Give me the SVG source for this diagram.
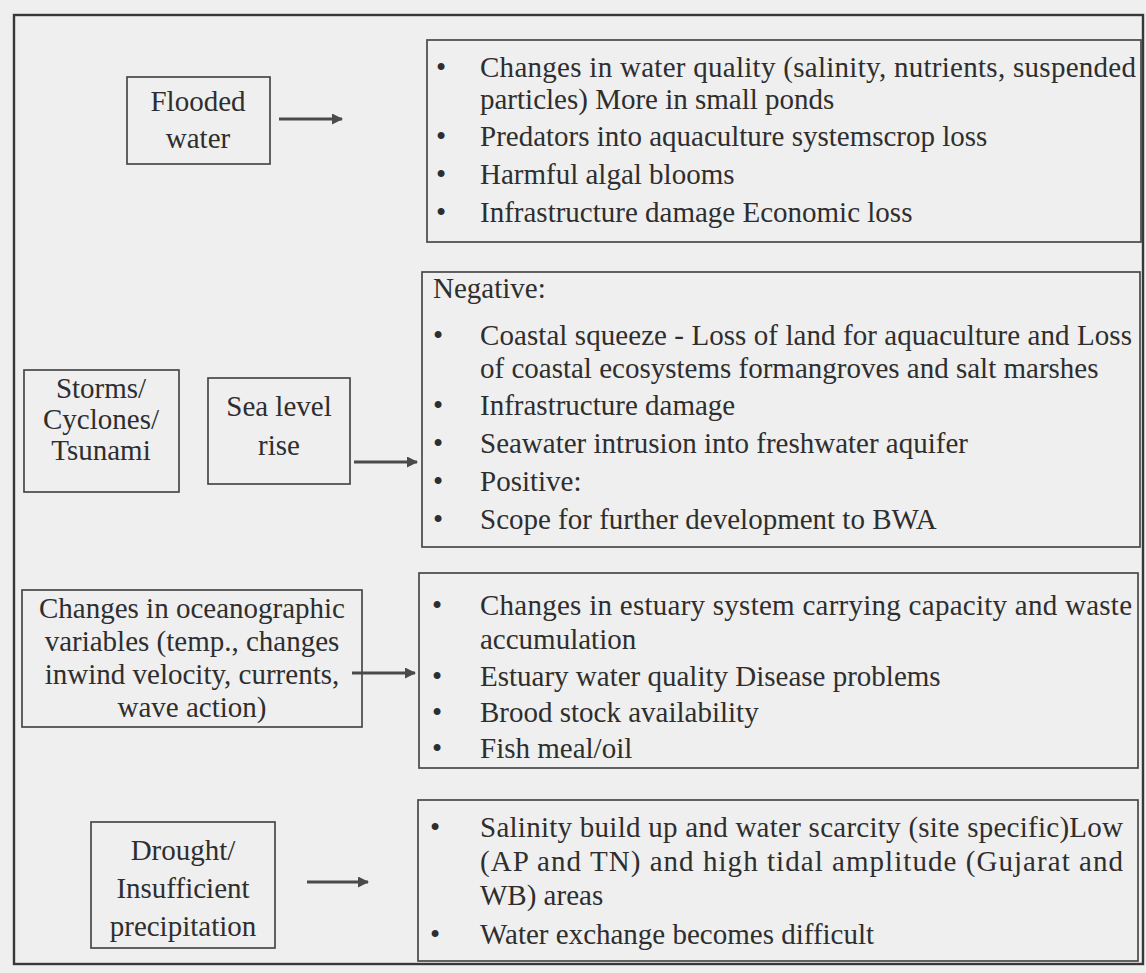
<svg xmlns="http://www.w3.org/2000/svg" width="1146" height="973" viewBox="0 0 1146 973">
<defs>
<style>
.bg{fill:#efefef}
.box{fill:none;stroke:#484848;stroke-width:1.7}
.outer{fill:none;stroke:#383838;stroke-width:2.4}
text{font-family:"Liberation Serif","Times New Roman",serif;font-size:29px;fill:#2e2e2e}
.c{text-anchor:middle}
.b{text-anchor:middle}
.conn{stroke:#4a4a4a;stroke-width:3.2;fill:none}
</style>
<marker id="ah" markerWidth="11" markerHeight="11" refX="10" refY="5.5" orient="auto" markerUnits="userSpaceOnUse">
<path d="M0,0 L11,5.5 L0,11 Z" fill="#4a4a4a"/>
</marker>
</defs>
<rect class="bg" x="0" y="0" width="1146" height="973"/>
<rect class="outer" x="14" y="15" width="1129" height="949"/>

<g id="connectors">
<line class="conn" x1="279" y1="119" x2="342" y2="119" marker-end="url(#ah)"/>
<line class="conn" x1="354" y1="462" x2="417" y2="462" marker-end="url(#ah)"/>
<line class="conn" x1="352" y1="673" x2="415" y2="673" marker-end="url(#ah)"/>
<line class="conn" x1="307" y1="882" x2="368" y2="882" marker-end="url(#ah)"/>
</g>

<g id="flooded">
<rect class="box" x="127" y="77" width="143" height="87"/>
<text class="c" x="198" y="111">Flooded</text>
<text class="c" x="198" y="148">water</text>
</g>

<g id="storms">
<rect class="box" x="24" y="370" width="155" height="122"/>
<text class="c" x="101" y="398">Storms/</text>
<text class="c" x="101" y="429">Cyclones/</text>
<text class="c" x="101" y="460">Tsunami</text>
</g>

<g id="sealevel">
<rect class="box" x="208" y="378" width="142" height="106"/>
<text class="c" x="279" y="416">Sea level</text>
<text class="c" x="279" y="455">rise</text>
</g>

<g id="oceanographic">
<rect class="box" x="22" y="590" width="340" height="137"/>
<text class="c" x="192" y="618">Changes in oceanographic</text>
<text class="c" x="192" y="651">variables (temp., changes</text>
<text class="c" x="192" y="684">inwind velocity, currents,</text>
<text class="c" x="192" y="717">wave action)</text>
</g>

<g id="drought">
<rect class="box" x="91" y="822" width="184" height="126"/>
<text class="c" x="183" y="860">Drought/</text>
<text class="c" x="183" y="898">Insufficient</text>
<text class="c" x="183" y="936">precipitation</text>
</g>

<g id="effects-flood">
<rect class="box" x="427" y="40" width="714" height="202"/>
<text class="b" x="441" y="77">•</text>
<text x="480" y="77" textLength="656" lengthAdjust="spacing">Changes in water quality (salinity, nutrients, suspended</text>
<text x="480" y="109">particles) More in small ponds</text>
<text class="b" x="441" y="146">•</text>
<text x="480" y="146">Predators into aquaculture systemscrop loss</text>
<text class="b" x="441" y="184">•</text>
<text x="480" y="184">Harmful algal blooms</text>
<text class="b" x="441" y="222">•</text>
<text x="480" y="222">Infrastructure damage Economic loss</text>
</g>

<g id="effects-sealevel">
<rect class="box" x="422" y="272" width="718" height="275"/>
<text x="433" y="298">Negative:</text>
<text class="b" x="438" y="345">•</text>
<text x="480" y="345" textLength="652" lengthAdjust="spacing">Coastal squeeze - Loss of land for aquaculture and  Loss</text>
<text x="480" y="378">of coastal ecosystems formangroves and salt marshes</text>
<text class="b" x="438" y="415">•</text>
<text x="480" y="415">Infrastructure damage</text>
<text class="b" x="438" y="453">•</text>
<text x="480" y="453">Seawater intrusion into freshwater aquifer</text>
<text class="b" x="438" y="491">•</text>
<text x="480" y="491">Positive:</text>
<text class="b" x="438" y="529">•</text>
<text x="480" y="529">Scope for further development to BWA</text>
</g>

<g id="effects-ocean">
<rect class="box" x="419" y="573" width="719" height="195"/>
<text class="b" x="437" y="615">•</text>
<text x="480" y="615" textLength="652" lengthAdjust="spacing">Changes in estuary system carrying capacity and waste</text>
<text x="480" y="649">accumulation</text>
<text class="b" x="437" y="686">•</text>
<text x="480" y="686">Estuary water quality Disease problems</text>
<text class="b" x="437" y="722">•</text>
<text x="480" y="722">Brood stock availability</text>
<text class="b" x="437" y="758">•</text>
<text x="480" y="758">Fish meal/oil</text>
</g>

<g id="effects-drought">
<rect class="box" x="418" y="800" width="720" height="161"/>
<text class="b" x="435" y="837">•</text>
<text x="480" y="837" textLength="643" lengthAdjust="spacing">Salinity build up and water scarcity (site specific)Low</text>
<text x="480" y="871" textLength="643" lengthAdjust="spacing">(AP and TN) and high tidal amplitude  (Gujarat and</text>
<text x="480" y="905">WB) areas</text>
<text class="b" x="435" y="944">•</text>
<text x="480" y="944">Water exchange becomes difficult</text>
</g>
</svg>
